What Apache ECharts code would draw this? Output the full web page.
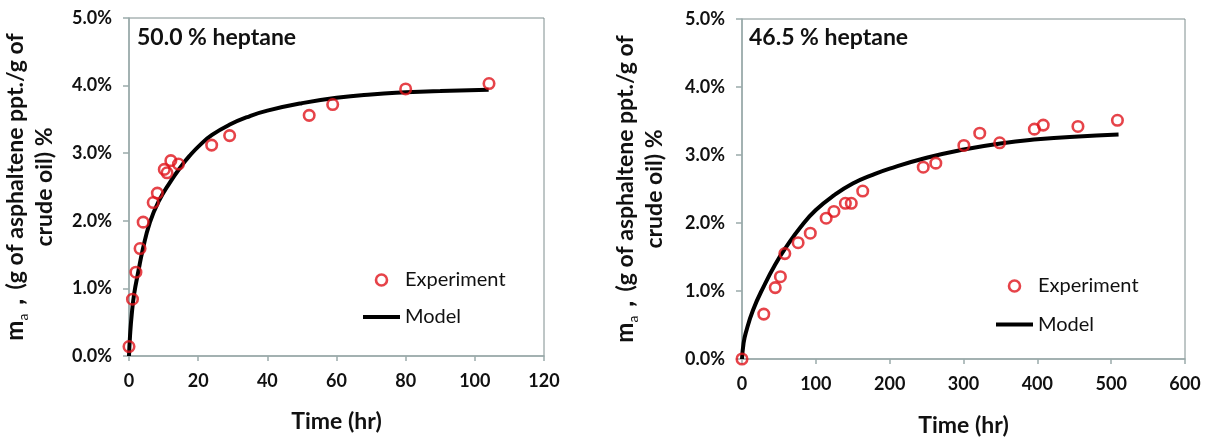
<!DOCTYPE html>
<html>
<head>
<meta charset="utf-8">
<script src="https://cdn.jsdelivr.net/npm/echarts@6/dist/echarts.min.js"></script>
<style>
html,body{margin:0;padding:0;background:#fff;}
#chart{width:1211px;height:442px;}
</style>
</head>
<body>
<div id="chart"></div>
<script>
// ---- data (values in %) ----
const leftExpTime  = [0, 1.0, 2.0, 3.2, 4.1, 7.0, 8.2, 10.2, 11.0, 12.1, 14.3, 23.9, 29.1, 52.1, 58.9, 80.0, 104.1];
const leftExpValue = [0.14, 0.84, 1.24, 1.59, 1.98, 2.27, 2.41, 2.76, 2.71, 2.89, 2.84, 3.12, 3.26, 3.56, 3.72, 3.95, 4.03];
const leftModelTime  = [0, 0.3, 0.8, 1.5, 2.7, 4, 6, 8.5, 12, 15, 17.5, 20.5, 24, 29, 35, 40, 50, 60, 70, 80, 90, 104];
const leftModelValue = [0, 0.3, 0.62, 0.92, 1.25, 1.58, 1.97, 2.28, 2.58, 2.80, 2.96, 3.12, 3.27, 3.42, 3.55, 3.63, 3.74, 3.82, 3.87, 3.90, 3.92, 3.94];

const rightExpTime  = [0, 29.5, 45, 52, 58, 76, 92.5, 114, 124.5, 140, 148, 163.5, 245.5, 262.5, 300.5, 322, 349, 396, 408, 455, 508.5];
const rightExpValue = [0, 0.66, 1.05, 1.21, 1.55, 1.71, 1.85, 2.07, 2.17, 2.29, 2.29, 2.47, 2.82, 2.88, 3.14, 3.32, 3.18, 3.38, 3.44, 3.42, 3.51];
const rightModelTime  = [0, 2, 5, 15, 30, 45, 60, 80, 100, 125, 150, 175, 200, 250, 300, 350, 400, 450, 510];
const rightModelValue = [0, 0.22, 0.38, 0.72, 1.08, 1.39, 1.65, 1.95, 2.19, 2.41, 2.58, 2.70, 2.80, 2.96, 3.08, 3.17, 3.23, 3.27, 3.30];

const leftXTicks  = [0, 20, 40, 60, 80, 100, 120];
const rightXTicks = [0, 100, 200, 300, 400, 500, 600];
const yTicks      = [0, 1, 2, 3, 4, 5];

const leftLabel  = '50.0 % heptane';
const rightLabel = '46.5 % heptane';
const seriesNames = ['Experiment', 'Model'];
const xTitle = 'Time (hr)';

// ---- styling ----
const FONT = 'Lato';
const RED = '#e0141c';
const AXIS = '#9aabab';

function zip(a, b) { return a.map((v, i) => [v, b[i]]); }

function xAxis(idx, ticks, gap) {
  return {
    type: 'value', gridIndex: idx,
    min: ticks[0], max: ticks[ticks.length - 1], interval: ticks[1] - ticks[0],
    name: xTitle, nameLocation: 'middle', nameGap: gap,
    nameTextStyle: { fontFamily: FONT, fontWeight: 'bold', fontSize: 23, color: '#111' },
    axisLine: { show: true, lineStyle: { color: AXIS, width: 1.5 } },
    axisTick: { show: true, length: 5, lineStyle: { color: AXIS, width: 1.5 } },
    axisLabel: { fontFamily: FONT, fontWeight: 'bold', fontSize: 18, color: '#111', margin: 16 },
    splitLine: { show: false }
  };
}
function yAxis(idx, gap) {
  return {
    type: 'value', gridIndex: idx,
    min: yTicks[0], max: yTicks[yTicks.length - 1], interval: yTicks[1] - yTicks[0],
    name: '{m|m}{sub|a}{m|，}(g of asphaltene ppt./g of\ncrude oil) %',
    nameLocation: 'middle', nameGap: gap, nameRotate: 90,
    nameTextStyle: {
      fontFamily: FONT, fontWeight: 'bold', fontSize: 23, color: '#111', lineHeight: 29,
      rich: {
        m: { fontFamily: FONT, fontWeight: 'bold', fontSize: 24, color: '#111', lineHeight: 29 },
        sub: { fontFamily: FONT, fontWeight: 'normal', fontSize: 14, color: '#111', verticalAlign: 'bottom', lineHeight: 22 }
      }
    },
    axisLine: { show: true, lineStyle: { color: AXIS, width: 1.5 } },
    axisTick: { show: true, length: 6, lineStyle: { color: AXIS, width: 1.5 } },
    axisLabel: {
      fontFamily: FONT, fontWeight: 'bold', fontSize: 18, color: '#111', margin: 17,
      formatter: v => v.toFixed(1) + '%'
    },
    splitLine: { show: false }
  };
}
function expSeries(idx, t, v) {
  return {
    name: seriesNames[0], type: 'scatter', xAxisIndex: idx, yAxisIndex: idx,
    data: zip(t, v), symbol: 'circle', symbolSize: 10.5, z: 3,
    itemStyle: { color: 'rgba(255,255,255,0)', borderColor: RED, borderWidth: 2.6 }
  };
}
function modelSeries(idx, t, v) {
  return {
    name: seriesNames[1], type: 'line', xAxisIndex: idx, yAxisIndex: idx,
    data: zip(t, v), smooth: 0.5, showSymbol: false, symbol: 'none', z: 2,
    lineStyle: { color: '#000', width: 4 }, itemStyle: { color: '#000' }
  };
}
function legend(left, top, gap) {
  return {
    orient: 'vertical', left: left, top: top, itemWidth: 37, itemHeight: 11, itemGap: gap,
    padding: 0, selectedMode: false,
    textStyle: { fontFamily: FONT, fontSize: 20, color: '#111' },
    data: [
      { name: seriesNames[0], icon: 'circle', itemStyle: { color: 'rgba(255,255,255,0)', borderColor: RED, borderWidth: 2.6 } },
      { name: seriesNames[1], icon: 'path://M0,0 L37,0 L37,4 L0,4 Z', itemStyle: { color: '#000', borderWidth: 0 } }
    ]
  };
}

const chart = echarts.init(document.getElementById('chart'), null, { renderer: 'canvas' });
chart.setOption({
  backgroundColor: '#fff',
  animation: false,
  title: [
    { text: leftLabel, left: 137, top: 26, padding: 0,
      textStyle: { fontFamily: FONT, fontWeight: 'bold', fontSize: 23, color: '#111' } },
    { text: rightLabel, left: 749, top: 26, padding: 0,
      textStyle: { fontFamily: FONT, fontWeight: 'bold', fontSize: 23, color: '#111' } }
  ],
  legend: [legend(363, 270, 17), legend(996, 276, 18.5)],
  grid: [
    { left: 129, top: 18, width: 415, height: 338, show: true, borderColor: '#7f8e8e', borderWidth: 1, containLabel: false },
    { left: 742, top: 19, width: 443, height: 344, show: true, borderColor: '#7f8e8e', borderWidth: 1, containLabel: false }
  ],
  xAxis: [xAxis(0, leftXTicks, 54), xAxis(1, rightXTicks, 55)],
  yAxis: [yAxis(0, 70), yAxis(1, 73)],
  series: [
    modelSeries(0, leftModelTime, leftModelValue),
    expSeries(0, leftExpTime, leftExpValue),
    modelSeries(1, rightModelTime, rightModelValue),
    expSeries(1, rightExpTime, rightExpValue)
  ]
});
</script>
</body>
</html>
